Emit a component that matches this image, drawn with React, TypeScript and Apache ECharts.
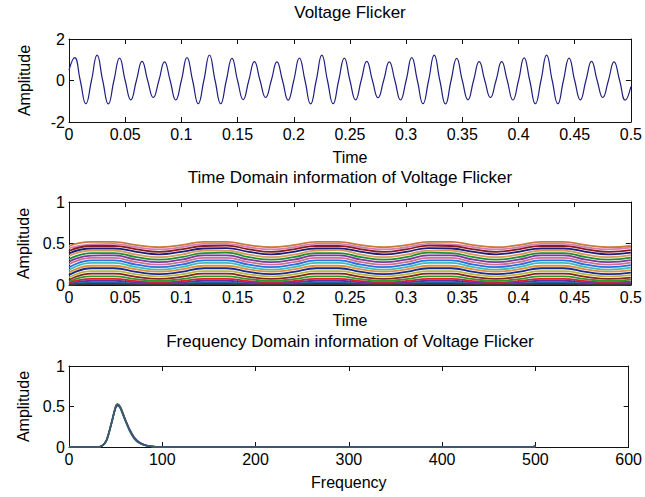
import React, { useEffect, useRef } from "react";
import * as echarts from "echarts";

// ---------- Data ----------
const timeTicks = [0, 0.05, 0.1, 0.15, 0.2, 0.25, 0.3, 0.35, 0.4, 0.45, 0.5];
const freqTicks = [0, 100, 200, 300, 400, 500, 600];

// Voltage flicker: samples every 0.005 s (zero crossings and peaks)
const flickerTime = Array.from({ length: 101 }, (_, i) => +(i * 0.005).toFixed(3));
const flickerValues = [
  0.5,
  1.1, 0, -1.12, 0, 1.22, 0, -1.13, 0, 1.08, 0, -0.93, 0, 0.92, 0, -0.82, 0, 0.9, 0, -0.94, 0,
  1.1, 0, -1.12, 0, 1.23, 0, -1.12, 0, 1.07, 0, -0.92, 0, 0.91, 0, -0.82, 0, 0.9, 0, -0.95, 0,
  1.08, 0, -1.13, 0, 1.22, 0, -1.12, 0, 1.08, 0, -0.93, 0, 0.92, 0, -0.83, 0, 0.9, 0, -0.94, 0,
  1.1, 0, -1.12, 0, 1.22, 0, -1.13, 0, 1.07, 0, -0.93, 0, 0.91, 0, -0.82, 0, 0.91, 0, -0.94, 0,
  1.09, 0, -1.12, 0, 1.22, 0, -1.12, 0, 1.08, 0, -0.93, 0, 0.92, 0, -0.82, 0, 0.9, 0, -0.95,
  -0.3,
];

// Time-domain information: one line per frequency bin, sampled every 0.02 s
const tdTime = [0, 0.02, 0.04, 0.06, 0.08, 0.1, 0.12, 0.14, 0.16, 0.18, 0.2, 0.22, 0.24, 0.26, 0.28, 0.3, 0.32, 0.34, 0.36, 0.38, 0.4, 0.42, 0.44, 0.46, 0.48, 0.5];
const td01 = [.47, .52, .52, .48, .455, .48, .52, .52, .48, .455, .48, .52, .52, .48, .455, .48, .52, .52, .48, .455, .48, .52, .52, .48, .455, .47];
const td02 = [.445, .49, .495, .455, .43, .455, .495, .495, .455, .43, .455, .495, .495, .455, .43, .455, .495, .49, .455, .43, .455, .495, .495, .455, .43, .45];
const td03 = [.41, .47, .47, .43, .40, .43, .47, .475, .43, .40, .43, .47, .47, .43, .40, .43, .475, .47, .43, .40, .43, .47, .47, .43, .40, .42];
const td04 = [.38, .44, .44, .40, .37, .40, .44, .445, .40, .37, .40, .44, .44, .40, .37, .40, .445, .44, .40, .37, .40, .44, .44, .40, .37, .39];
const td05 = [.35, .415, .415, .365, .335, .365, .415, .415, .365, .335, .365, .415, .42, .365, .335, .365, .415, .415, .365, .335, .365, .415, .415, .365, .335, .36];
const td06 = [.31, .385, .385, .335, .305, .335, .385, .39, .335, .305, .335, .385, .385, .335, .305, .335, .39, .385, .335, .305, .335, .385, .385, .335, .305, .33];
const td07 = [.28, .355, .356, .306, .275, .306, .356, .356, .306, .275, .306, .356, .356, .306, .275, .306, .356, .356, .306, .275, .306, .356, .356, .306, .275, .30];
const td08 = [.25, .326, .326, .276, .245, .276, .326, .326, .276, .245, .276, .326, .326, .276, .245, .276, .326, .326, .276, .245, .276, .326, .326, .276, .245, .27];
const td09 = [.21, .296, .296, .246, .215, .246, .296, .296, .246, .215, .246, .296, .296, .246, .215, .246, .296, .296, .246, .215, .246, .296, .296, .246, .215, .24];
const td10 = [.18, .266, .266, .216, .185, .216, .266, .266, .216, .185, .216, .266, .266, .216, .185, .216, .266, .266, .216, .185, .216, .266, .266, .216, .185, .21];
const td11 = [.15, .232, .232, .188, .16, .188, .232, .232, .188, .16, .188, .232, .232, .188, .16, .188, .232, .232, .188, .16, .188, .232, .232, .188, .16, .18];
const td12 = [.12, .202, .202, .158, .13, .158, .202, .202, .158, .13, .158, .202, .202, .158, .13, .158, .202, .202, .158, .13, .158, .202, .202, .158, .13, .15];
const td13 = [.09, .168, .168, .129, .105, .129, .168, .168, .129, .105, .129, .168, .168, .129, .105, .129, .168, .168, .129, .105, .129, .168, .168, .129, .105, .12];
const td14 = [.06, .138, .138, .099, .075, .099, .138, .138, .099, .075, .099, .138, .138, .099, .075, .099, .138, .138, .099, .075, .099, .138, .138, .099, .075, .09];
const td15 = [.04, .104, .104, .071, .05, .071, .104, .104, .071, .05, .071, .104, .104, .071, .05, .071, .104, .104, .071, .05, .071, .104, .104, .071, .05, .065];
const td16 = [.025, .075, .075, .047, .03, .047, .075, .075, .047, .03, .047, .075, .075, .047, .03, .047, .075, .075, .047, .03, .047, .075, .075, .047, .03, .04];
const td17 = [.012, .051, .051, .029, .015, .029, .051, .051, .029, .015, .029, .051, .051, .029, .015, .029, .051, .051, .029, .015, .029, .051, .051, .029, .015, .025];
const td18 = [.006, .028, .028, .014, .006, .014, .028, .028, .014, .006, .014, .028, .028, .014, .006, .014, .028, .028, .014, .006, .014, .028, .028, .014, .006, .012];
const td19 = [.002, .012, .012, .005, .001, .005, .012, .012, .005, .001, .005, .012, .012, .005, .001, .005, .012, .012, .005, .001, .005, .012, .012, .005, .001, .004];
const tdLines = [td01, td02, td03, td04, td05, td06, td07, td08, td09, td10, td11, td12, td13, td14, td15, td16, td17, td18, td19];
const tdColors = [
  "#c87a3c", "#d47fb0", "#8b1c1c", "#1c1c7c", "#d89a5a", "#1f8f2f",
  "#7a3b9a", "#d07090", "#2a6ee0", "#3cbcbc", "#e0903a", "#1a2a8a",
  "#b8b840", "#8b2020", "#2a9a2a", "#e02020", "#6a2aa0", "#1a6aa0", "#3a3a3a",
];

// Frequency-domain information: one spectrum per time frame
const fdFreq = [0, 30, 35, 40, 45, 50, 52, 55, 60, 65, 70, 75, 80, 85, 90, 95, 100, 497, 500];
const fd1 = [0, 0, 0.01, 0.07, 0.26, 0.49, 0.52, 0.48, 0.33, 0.2, 0.1, 0.05, 0.025, 0.012, 0.005, 0.002, 0, 0, 0];
const fd2 = [0, 0, 0.01, 0.08, 0.28, 0.5, 0.53, 0.5, 0.35, 0.21, 0.11, 0.055, 0.028, 0.013, 0.006, 0.002, 0, 0, 0.01];
const fd3 = [0, 0, 0.012, 0.08, 0.27, 0.49, 0.52, 0.49, 0.35, 0.22, 0.12, 0.06, 0.03, 0.014, 0.006, 0.002, 0, 0, 0.015];
const fd4 = [0, 0, 0.01, 0.075, 0.27, 0.48, 0.51, 0.48, 0.34, 0.21, 0.11, 0.06, 0.03, 0.013, 0.006, 0.002, 0, 0, 0.01];
const fd5 = [0, 0, 0.01, 0.075, 0.27, 0.5, 0.53, 0.49, 0.34, 0.2, 0.105, 0.05, 0.025, 0.012, 0.005, 0.002, 0, 0, 0.02];
const fdLines = [fd1, fd2, fd3, fd4, fd5];
const fdColors = ["#3cc4c4", "#3a9a3a", "#8a3a9a", "#2a3aaa", "#3f5f5f"];

// ---------- Chart ----------
const FONT = "'Liberation Sans', Arial, Helvetica, sans-serif";

export default function App() {
  const ref = useRef<HTMLDivElement>(null);

  useEffect(() => {
    document.body.style.margin = "0";
    if (!ref.current) return;
    const chart = echarts.init(ref.current, undefined, { renderer: "svg" });

    const grids = [
      { left: 69, right: 14, top: 39, height: 83 },
      { left: 69, right: 14, top: 202, height: 83 },
      { left: 69, right: 14, top: 366, height: 81 },
    ];

    const axisLine = { show: true, onZero: false, lineStyle: { color: "#111", width: 1 } };
    const tick = { show: true, inside: true, length: 5, lineStyle: { color: "#111" } };
    const label = { color: "#000", fontSize: 16, fontFamily: FONT };
    const nameStyle = { color: "#000", fontSize: 16, fontFamily: FONT };
    const fmtTime = (v: number) => String(Math.round(v * 100) / 100);

    const xSpecs = [
      { min: timeTicks[0], max: timeTicks[timeTicks.length - 1], interval: 0.05, name: "Time", fmt: fmtTime },
      { min: timeTicks[0], max: timeTicks[timeTicks.length - 1], interval: 0.05, name: "Time", fmt: fmtTime },
      { min: freqTicks[0], max: freqTicks[freqTicks.length - 1], interval: 100, name: "Frequency", fmt: (v: number) => String(v) },
    ];
    const ySpecs = [
      { min: -2, max: 2, interval: 2 },
      { min: 0, max: 1, interval: 0.5 },
      { min: 0, max: 1, interval: 0.5 },
    ];

    const xAxis: any[] = [];
    const yAxis: any[] = [];
    xSpecs.forEach((s, i) => {
      xAxis.push({
        type: "value", gridIndex: i, position: "bottom", min: s.min, max: s.max, interval: s.interval,
        axisLine, axisTick: tick, splitLine: { show: false },
        axisLabel: { ...label, margin: 4, formatter: s.fmt },
        name: s.name, nameLocation: "middle", nameGap: 27, nameTextStyle: nameStyle,
      });
      xAxis.push({
        type: "value", gridIndex: i, position: "top", min: s.min, max: s.max, interval: s.interval,
        axisLine, axisTick: tick, splitLine: { show: false }, axisLabel: { show: false },
      });
    });
    ySpecs.forEach((s, i) => {
      yAxis.push({
        type: "value", gridIndex: i, position: "left", min: s.min, max: s.max, interval: s.interval,
        axisLine, axisTick: tick, splitLine: { show: false },
        axisLabel: { ...label, margin: 4 },
        name: "Amplitude", nameLocation: "middle", nameGap: 37, nameTextStyle: nameStyle,
      });
      yAxis.push({
        type: "value", gridIndex: i, position: "right", min: s.min, max: s.max, interval: s.interval,
        axisLine, axisTick: tick, splitLine: { show: false }, axisLabel: { show: false },
      });
    });

    const series: any[] = [];
    series.push({
      type: "line", xAxisIndex: 0, yAxisIndex: 0, showSymbol: false, smooth: true,
      data: flickerTime.map((t, i) => [t, flickerValues[i]]),
      lineStyle: { color: "#1e1e80", width: 1.2 },
    });
    tdLines.forEach((vals, k) => {
      series.push({
        type: "line", xAxisIndex: 2, yAxisIndex: 2, showSymbol: false, smooth: true,
        data: tdTime.map((t, i) => [t, vals[i]]),
        lineStyle: { color: tdColors[k], width: 1.8 },
      });
    });
    fdLines.forEach((vals, k) => {
      series.push({
        type: "line", xAxisIndex: 4, yAxisIndex: 4, showSymbol: false, smooth: 0.3,
        data: fdFreq.map((f, i) => [f, vals[i]]),
        lineStyle: { color: fdColors[k], width: 1.6 },
      });
    });

    const titleStyle = { fontSize: 17, fontWeight: "normal", color: "#000", fontFamily: FONT };
    chart.setOption({
      animation: false,
      backgroundColor: "#fff",
      title: [
        { text: "Voltage Flicker", left: 350, top: 4, textAlign: "center", padding: 0, textStyle: titleStyle },
        { text: "Time Domain information of Voltage Flicker", left: 350, top: 169, textAlign: "center", padding: 0, textStyle: titleStyle },
        { text: "Frequency Domain information of Voltage Flicker", left: 350, top: 333, textAlign: "center", padding: 0, textStyle: titleStyle },
      ],
      grid: grids,
      xAxis,
      yAxis,
      series,
    });

    return () => chart.dispose();
  }, []);

  return <div ref={ref} style={{ width: 645, height: 497 }} />;
}
